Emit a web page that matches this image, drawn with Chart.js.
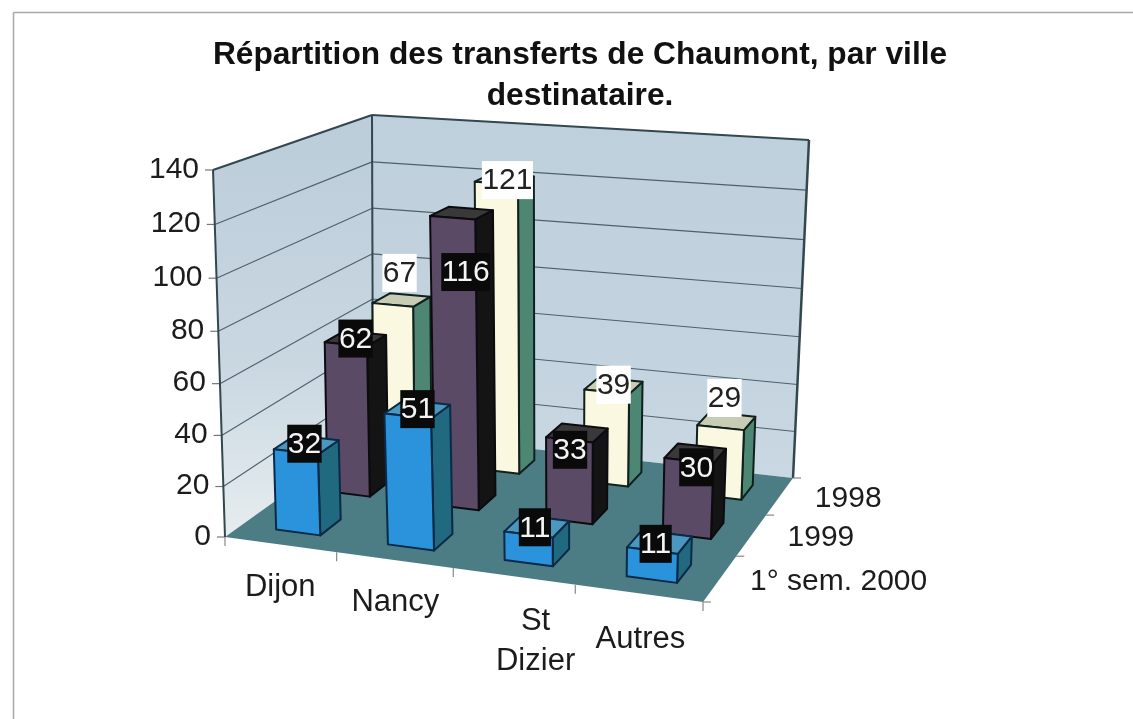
<!DOCTYPE html>
<html><head><meta charset="utf-8">
<style>html,body{margin:0;padding:0;background:#fff}canvas{display:block}</style>
<script src="https://cdn.jsdelivr.net/npm/chart.js@4"></script>
</head><body><canvas id="c" width="1133" height="719"></canvas>
<script>
const titleLines = ["Répartition des transferts de Chaumont, par ville", "destinataire."];
const categories = ["Dijon", "Nancy", ["St", "Dizier"], "Autres"];
const seriesNames = ["1998", "1999", "1° sem. 2000"];
const values1998 = [67, 121, 39, 29];
const values1999 = [62, 116, 33, 30];
const values2000 = [32, 51, 11, 11];

const FONT = "'Liberation Sans', Arial, sans-serif";
const floorQuad = [[225,537],[703,602],[793,478],[373,431]];   // (u,w)=(0,0),(1,0),(1,1),(0,1)
const ceilQuad  = [[213,170],[717,210],[809,140],[372,115]];
const barU = 0.40, barW = 0.40, barShift = 0.004, heightBow = 0.045;
// hand-placed value labels in the reference: offset from the top centre of each bar
const labelNudge = [
  [[-2,-27],[3,1],[0,-1],[-2,-23]],
  [[0,0],[4,59],[-7,17],[1,14]],
  [[-2,-1],[0,0],[-2,1],[-4,2]]
];
const catNudge = [[0,2],[1,1],[22,4],[2,5]];
const seriesNudge = [35,36,30];

const looks = [
  {front:'#fbf8e2', top:'#c8ccb4', side:'#4e8674', edge:'#10201c', box:'#ffffff', text:'#222222'},
  {front:'#5b4a66', top:'#3a3838', side:'#141414', edge:'#0c0c10', box:'#0a0a0a', text:'#f4f4f4'},
  {front:'#2a93dc', top:'#4b97bd', side:'#21697e', edge:'#0a2a48', box:'#0a0a0a', text:'#f4f4f4'}
];

function homography(q){
  const [[x0,y0],[x1,y1],[x2,y2],[x3,y3]] = q;
  const dx1=x1-x2, dx2=x3-x2, sx=x0-x1+x2-x3, dy1=y1-y2, dy2=y3-y2, sy=y0-y1+y2-y3;
  const d=dx1*dy2-dx2*dy1, g=(sx*dy2-dx2*sy)/d, h=(dx1*sy-sx*dy1)/d;
  const a=x1-x0+g*x1, b=x3-x0+h*x3, e=y1-y0+g*y1, f=y3-y0+h*y3;
  return (u,w)=>{const n=g*u+h*w+1;return [(a*u+b*w+x0)/n,(e*u+f*w+y0)/n];};
}
const floorH = homography(floorQuad), ceilH = homography(ceilQuad);
function proj(u,w,h){
  const a=floorH(u,w), b=ceilH(u,w), t=h/(1+heightBow*(1-h));
  return [a[0]+(b[0]-a[0])*t, a[1]+(b[1]-a[1])*t];
}
function poly(ctx,pts,fill,stroke,lw){
  ctx.beginPath(); pts.forEach((p,i)=>i?ctx.lineTo(p[0],p[1]):ctx.moveTo(p[0],p[1])); ctx.closePath();
  if(fill){ctx.fillStyle=fill;ctx.fill();}
  if(stroke){ctx.strokeStyle=stroke;ctx.lineWidth=lw||1;ctx.lineJoin='round';ctx.stroke();}
}
function seg(ctx,a,b,c,lw){ctx.beginPath();ctx.moveTo(a[0],a[1]);ctx.lineTo(b[0],b[1]);ctx.strokeStyle=c;ctx.lineWidth=lw;ctx.stroke();}

const scene3d = {
  id:'scene3d',
  beforeDraw(chart){
    const ctx=chart.ctx;
    ctx.save();
    ctx.fillStyle='#ffffff';ctx.fillRect(0,0,chart.width,chart.height);
    seg(ctx,[13.5,chart.height],[13.5,12.5],'#a8a8a8',1.5);
    seg(ctx,[13.5,12.5],[chart.width,12.5],'#a8a8a8',1.5);
    ctx.restore();
  },
  afterDatasetsDraw(chart){
    const ctx=chart.ctx, X=chart.scales.x, Y=chart.scales.y, Z=chart.scales.z;
    const U=i=>(X.getPixelForValue(i)-X.left)/X.width;
    const W=i=>1-(Z.getPixelForValue(i)-Z.top)/Z.height;
    const H=v=>(Y.bottom-Y.getPixelForValue(v))/Y.height;
    const du=barU/categories.length/2, dw=barW/seriesNames.length/2;
    ctx.save();
    // walls
    const mkGrad=(y0,y1,c0,c1,c2)=>{const g=ctx.createLinearGradient(0,y0,0,y1);g.addColorStop(0,c0);g.addColorStop(0.55,c1);g.addColorStop(1,c2);return g;};
    poly(ctx,[proj(0,0,0),proj(0,1,0),proj(0,1,1),proj(0,0,1)],mkGrad(150,537,'#bdcedb','#c9d7e1','#e6edef'));
    poly(ctx,[proj(0,1,0),proj(1,1,0),proj(1,1,1),proj(0,1,1)],mkGrad(115,478,'#bfd0dd','#c2d2de','#c9d8e3'));
    poly(ctx,[proj(0,0,0),proj(1,0,0),proj(1,1,0),proj(0,1,0)],'#4c7d84');
    // grid lines and y ticks
    ctx.font='30px '+FONT; ctx.textBaseline='middle';
    Y.ticks.forEach(t=>{
      const h=H(t.value), a=proj(0,0,h), b=proj(0,1,h), c=proj(1,1,h);
      if(t.value>0&&t.value<Y.max){seg(ctx,a,b,'#4d616d',1.1);seg(ctx,b,c,'#4d616d',1.1);}
      seg(ctx,[a[0]-8,a[1]],a,'#777',1.2);
      ctx.fillStyle='#1c1c1c';ctx.textAlign='right';
      ctx.fillText(t.label,a[0]-14,a[1]-0.5);
    });
    // wall outline
    const oc='#33474f';
    seg(ctx,proj(0,0,0),proj(0,0,1),oc,2);
    seg(ctx,proj(0,0,1),proj(0,1,1),oc,2);
    seg(ctx,proj(0,1,1),proj(1,1,1),oc,2);
    seg(ctx,proj(0,1,0),proj(0,1,1),oc,2);
    seg(ctx,proj(1,1,0),proj(1,1,1),oc,2.5);
    // category ticks + labels
    [0,1,2,3,4].map(i=>i/4).forEach(u=>{const p=proj(u,0,0);seg(ctx,p,[p[0],p[1]+9],'#888',1.2);});
    [0,1/3,2/3,1].forEach(w=>{const p=proj(1,w,0);seg(ctx,p,[p[0]+8,p[1]],'#888',1.2);});
    ctx.fillStyle='#1c1c1c';ctx.textAlign='center';
    ctx.font='31px '+FONT;
    categories.forEach((lab,i)=>{
      const p=proj(U(i),0,0), ls=[].concat(lab), n=catNudge[i];
      ls.forEach((s,k)=>ctx.fillText(s,p[0]+n[0],p[1]+41+n[1]+k*40));
    });
    ctx.textAlign='left';ctx.font='30px '+FONT;
    seriesNames.forEach((s,i)=>{const p=proj(1,W(i),0);ctx.fillText(s,p[0]+seriesNudge[i],p[1]+3);});
    // bars, back row first
    chart.data.datasets.forEach((ds,si)=>{
      const L=looks[si], wc=W(si);
      ds.data.forEach((v,ci)=>{
        const uc=U(ci)+barShift, h=H(v);
        const u0=uc-du,u1=uc+du,w0=wc-dw,w1=wc+dw;
        poly(ctx,[proj(u1,w0,0),proj(u1,w1,0),proj(u1,w1,h),proj(u1,w0,h)],L.side,L.edge,2);
        poly(ctx,[proj(u0,w0,h),proj(u1,w0,h),proj(u1,w1,h),proj(u0,w1,h)],L.top,L.edge,2);
        poly(ctx,[proj(u0,w0,0),proj(u1,w0,0),proj(u1,w0,h),proj(u0,w0,h)],L.front,L.edge,2);
      });
    });
    // value labels
    ctx.textAlign='center';ctx.font='30px '+FONT;
    chart.data.datasets.forEach((ds,si)=>{
      const L=looks[si], wc=W(si);
      ds.data.forEach((v,ci)=>{
        const n=labelNudge[si][ci], q=proj(U(ci)+barShift,wc,H(v)), p=[q[0]+n[0],q[1]+n[1]];
        const s=String(v), tw=ctx.measureText(s).width+1;
        ctx.fillStyle=L.box;ctx.fillRect(p[0]-tw/2,p[1]-19,tw,38);
        ctx.fillStyle=L.text;ctx.fillText(s,p[0],p[1]+1);
      });
    });
    ctx.restore();
  }
};

new Chart(document.getElementById('c'),{
  type:'bar',
  data:{
    labels:categories,
    datasets:[
      {label:seriesNames[0],data:values1998,backgroundColor:'rgba(0,0,0,0)'},
      {label:seriesNames[1],data:values1999,backgroundColor:'rgba(0,0,0,0)'},
      {label:seriesNames[2],data:values2000,backgroundColor:'rgba(0,0,0,0)'}
    ]
  },
  options:{
    responsive:false,animation:false,
    layout:{padding:{left:27,right:0,top:35,bottom:182}},
    plugins:{
      legend:{display:false},tooltip:{enabled:false},
      title:{display:true,text:titleLines,color:'#111',font:{family:FONT,size:31.7,weight:'bold',lineHeight:1.29},padding:{top:0,bottom:53}}
    },
    scales:{
      x:{display:false,offset:true},
      y:{min:0,max:140,ticks:{stepSize:20,display:false},grid:{display:false},border:{display:false},afterFit(s){s.width=198;}},
      z:{type:'category',axis:'y',position:'right',labels:seriesNames,offset:true,ticks:{display:false},grid:{display:false},border:{display:false},afterFit(s){s.width=430;}}
    }
  },
  plugins:[scene3d]
});
</script></body></html>
